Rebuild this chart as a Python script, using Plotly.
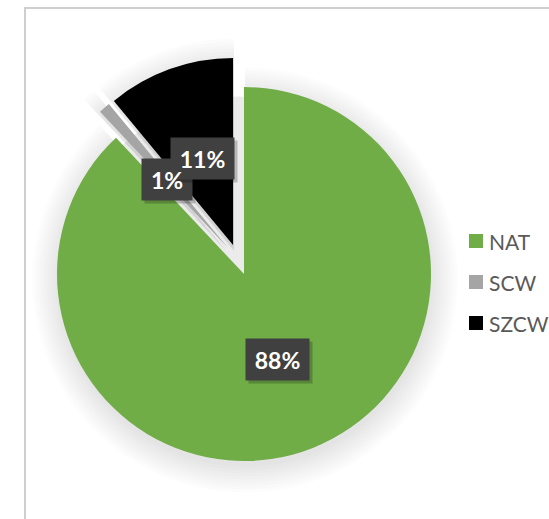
import math
import plotly.graph_objects as go

# Data
categories = ["NAT", "SCW", "SZCW"]
shares = [88, 1, 11]
slice_colors = ["#70AD47", "#A5A5A5", "#000000"]

# Figure geometry (pixels)
W, H = 549, 519
CX, CY = 238.3, 259.6      # pie centre before explosion
R = 187.0                  # pie radius
EXPLODE = 15.5             # explosion distance of every slice
LABEL_DIST = 0.49 * R      # label distance from each slice's own centre


def px_x(x):
    return x / W


def px_y(y):
    return 1 - y / H


def pie_domain(cx, cy, r, d):
    half = r + d
    return dict(x=[px_x(cx - half), px_x(cx + half)],
                y=[px_y(cy + half), px_y(cy - half)])


def shadow_pie(r, pull_px, dx, dy, alpha):
    return go.Pie(
        labels=categories, values=shares, sort=False, direction="clockwise",
        rotation=0, pull=pull_px / r, textinfo="none", hoverinfo="skip",
        showlegend=False,
        marker=dict(colors=[f"rgba(0,0,0,{alpha})"] * len(shares),
                    line=dict(width=0)),
        domain=pie_domain(CX + dx, CY + dy, r, pull_px),
    )


fig = go.Figure()

# Soft drop shadow: stacked translucent pies of growing radius
for k in range(9):
    fig.add_trace(shadow_pie(R + 3.2 * k, EXPLODE, 1, 6, 0.013))
# Shadow falling into the gaps between exploded slices
fig.add_trace(shadow_pie(R - 20, 0.0001, 2, 4, 0.08))

# Main pie
fig.add_trace(go.Pie(
    labels=categories, values=shares, sort=False, direction="clockwise",
    rotation=0, pull=EXPLODE / R, textinfo="none", showlegend=False,
    marker=dict(colors=slice_colors, line=dict(width=0)),
    domain=pie_domain(CX, CY, R, EXPLODE),
))

# Percentage labels in dark boxes, placed along each slice's mid-angle
total = sum(shares)
label_font = dict(family="Lato, Open Sans, sans-serif", size=23, color="white")
box_layer, text_layer = [], []
cum = 0
for name, v in zip(categories, shares):
    mid = 2 * math.pi * (cum + v / 2) / total
    cum += v
    dist = EXPLODE + LABEL_DIST
    lx = CX + dist * math.sin(mid)
    ly = CY - dist * math.cos(mid)
    pct = f"{round(100 * v / total)}%"
    bw = 24 + 13 * len(pct)
    common = dict(xref="paper", yref="paper", showarrow=False, width=bw,
                  height=41, borderpad=0, xanchor="center", yanchor="middle")
    box_layer.append(dict(x=px_x(lx + 3), y=px_y(ly + 3), text="",
                          bgcolor="rgba(0,0,0,0.22)", **common))
    box_layer.append(dict(x=px_x(lx), y=px_y(ly), text="",
                          bgcolor="#404040", **common))
    text_layer.append(dict(x=px_x(lx), y=px_y(ly), text=f"<b>{pct}</b>",
                           font=label_font, align="center", valign="middle",
                           **common))

# boxes first, then all label texts on top of them
annotations = box_layer + text_layer

# Legend drawn as square swatches with labels
shapes = []
legend_x, legend_y0, legend_step = 476, 241, 41
for i, (name, col) in enumerate(zip(categories, slice_colors)):
    yc = legend_y0 + i * legend_step
    shapes.append(dict(
        type="rect", xref="paper", yref="paper",
        x0=px_x(legend_x - 7), x1=px_x(legend_x + 7),
        y0=px_y(yc + 7), y1=px_y(yc - 7),
        fillcolor=col, line=dict(width=0),
    ))
    annotations.append(dict(
        x=px_x(legend_x + 11), y=px_y(yc), xref="paper", yref="paper",
        text=name, showarrow=False, xanchor="left", yanchor="middle",
        font=dict(family="Lato, Open Sans, sans-serif", size=21, color="#595959"),
    ))

# Chart area border
shapes.append(dict(
    type="rect", xref="paper", yref="paper",
    x0=px_x(25), x1=px_x(600), y0=px_y(560), y1=px_y(8),
    line=dict(color="#CFCFCF", width=2), fillcolor="rgba(0,0,0,0)",
    layer="above",
))

fig.update_layout(
    width=W, height=H,
    margin=dict(l=0, r=0, t=0, b=0),
    paper_bgcolor="white", plot_bgcolor="white",
    annotations=annotations, shapes=shapes,
    showlegend=False,
)

fig.write_html("out.html")
